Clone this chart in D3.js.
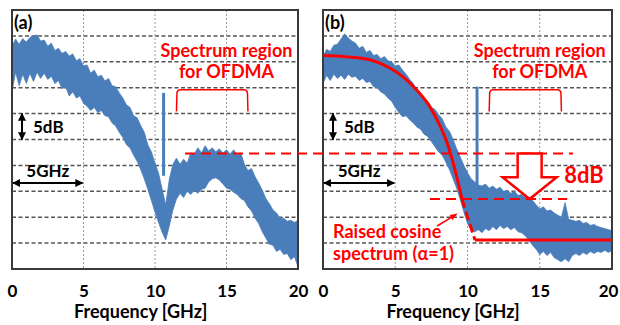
<!DOCTYPE html>
<html>
<head>
<meta charset="utf-8">
<script src="https://cdn.jsdelivr.net/npm/d3@7"></script>
<style>
  body { margin: 0; background: #fff; }
  svg { display: block; font-family: Lato, "Open Sans", sans-serif; }
</style>
</head>
<body>
<svg id="chart" width="620" height="325"></svg>
<script>
// frequency axis [GHz] and level grid [dB]
const freqTicks = [0, 5, 10, 15, 20];
const dbGrid = [-5, -10, -15, -20, -25, -30, -35, -40, -45];

// sample frequencies of the traced envelopes [GHz]
const freqs = [0, 0.25, 0.5, 0.75, 1, 1.25, 1.5, 1.75, 2, 2.25, 2.5, 2.75, 3, 3.25, 3.5, 3.75, 4, 4.25, 4.5, 4.75,
  5, 5.25, 5.5, 5.75, 6, 6.25, 6.5, 6.75, 7, 7.25, 7.5, 7.75, 8, 8.25, 8.5, 8.75, 9, 9.25, 9.5, 9.75,
  10, 10.25, 10.5, 10.75, 11, 11.25, 11.5, 11.75, 12, 12.25, 12.5, 12.75, 13, 13.25, 13.5, 13.75, 14, 14.25, 14.5, 14.75,
  15, 15.25, 15.5, 15.75, 16, 16.25, 16.5, 16.75, 17, 17.25, 17.5, 17.75, 18, 18.25, 18.5, 18.75, 19, 19.25, 19.5, 19.75, 20];

// panel (a): measured spectrum, upper / lower edge of the noisy trace [dB]
const upperA = [-7.0, -5.6, -6.6, -5.5, -6.2, -5.3, -5.0, -4.8, -6.0, -5.8, -7.0, -6.4, -7.8, -7.4, -8.4, -8.0, -8.9, -8.5, -9.8, -9.4,
  -10.8, -10.6, -12.2, -11.6, -12.9, -12.6, -13.7, -13.2, -14.6, -14.8, -16.0, -17.0, -18.3, -18.8, -20.4, -20.8, -22.3, -23.6, -26.0, -27.4,
  -29.6, -31.5, -34.6, -37.6, -32.7, -29.8, -28.6, -29.8, -28.8, -29.6, -27.6, -27.8, -26.6, -27.6, -26.2, -27.2, -26.6, -27.4, -26.8, -27.6,
  -27.0, -27.8, -27.0, -28.0, -27.6, -29.8, -31.0, -30.6, -32.2, -33.4, -34.8, -36.4, -37.4, -38.6, -39.2, -40.2, -40.2, -40.8, -40.6, -41.0, -40.6];
const lowerA = [-15.8, -12.0, -14.6, -12.4, -14.2, -12.2, -13.8, -12.0, -13.2, -12.2, -13.4, -12.8, -14.2, -13.6, -15.2, -14.8, -16.6, -15.8, -17.0, -16.6,
  -18.0, -18.6, -19.4, -18.8, -19.8, -19.4, -20.4, -20.6, -21.8, -22.4, -23.6, -24.6, -26.0, -26.6, -28.0, -29.2, -30.8, -32.6, -34.6, -36.8,
  -39.0, -41.0, -42.9, -44.4, -41.7, -38.6, -36.5, -35.4, -36.2, -35.0, -35.6, -34.8, -35.4, -34.6, -34.4, -33.2, -32.6, -32.4, -32.8, -33.6,
  -34.4, -34.6, -35.2, -35.6, -36.4, -36.8, -38.0, -38.8, -40.2, -41.2, -42.8, -44.0, -45.2, -45.4, -46.6, -46.2, -47.2, -47.0, -48.2, -47.6, -49.6];

// panel (b): spectrum after pre-equalisation [dB]
const upperB = [-9.0, -7.6, -8.0, -6.8, -6.6, -5.6, -4.6, -5.4, -6.0, -6.4, -7.4, -7.0, -8.2, -7.8, -8.8, -8.6, -9.4, -9.0, -9.8, -10.0,
  -10.8, -10.6, -11.6, -12.4, -13.4, -14.2, -15.6, -16.0, -17.2, -17.6, -18.8, -19.2, -20.2, -21.0, -22.6, -23.4, -25.0, -26.8, -28.4, -30.0,
  -31.4, -32.6, -33.2, -33.8, -34.0, -33.6, -34.4, -34.0, -34.6, -34.2, -35.0, -34.8, -35.4, -35.0, -35.8, -35.6, -36.2, -35.0, -36.8, -37.6,
  -38.4, -38.0, -38.8, -38.6, -39.2, -39.6, -40.0, -37.2, -40.4, -40.6, -40.8, -40.6, -41.2, -41.0, -41.6, -41.4, -41.8, -42.0, -42.2, -42.4, -42.6];
const lowerB = [-14.2, -12.6, -13.6, -12.4, -13.2, -12.6, -13.4, -12.4, -13.0, -12.8, -13.6, -13.2, -14.0, -13.8, -14.8, -15.0, -15.8, -16.2, -17.0, -17.6,
  -18.8, -19.8, -20.6, -20.4, -21.2, -21.8, -22.6, -23.0, -24.0, -24.4, -25.4, -26.4, -27.4, -28.0, -29.4, -30.8, -32.6, -34.4, -36.6, -39.0,
  -41.2, -42.4, -42.8, -42.4, -43.0, -42.2, -42.6, -41.8, -42.4, -41.6, -42.2, -41.8, -42.4, -42.0, -42.8, -43.0, -43.6, -44.4, -45.4, -46.2,
  -47.2, -46.6, -47.4, -46.8, -47.8, -48.2, -48.6, -48.0, -48.6, -47.4, -47.0, -47.4, -46.8, -47.2, -46.6, -47.0, -46.6, -46.8, -46.4, -46.8, -46.4];

// carrier spikes [GHz, top dB, bottom dB]
const spikeA = [10.6, -16, -32];
const spikeB = [10.66, -14.8, -34];

// raised cosine reference (alpha = 1)
const rcFreq = [0, 1.5, 3.25, 4.5, 5.54, 6.5, 7.4, 8, 8.58, 9.13, 9.62, 10.1, 10.52, 20];
const rcDb = [-8.8, -9.0, -9.6, -11.0, -12.9, -15.5, -18.7, -21.8, -25.6, -30.8, -36.5, -40.8, -44.4, -44.4];
const rcDashFrom = 9.62, rcDashTo = 10.52;

// annotations
const ofdmaBand = [11.5, 16.5];          // bracket span [GHz]
const ofdmaBracketDb = [-15.4, -19.6];   // bracket top / leg end [dB]
const levelBefore = -27.7;               // dashed level in (a)
const levelAfter = -36.5;                // dashed level in (b)
const levelLineA = 12.1, levelLineB = 17.3, levelAfterFrom = 7.4, levelAfterTo = 16.9;
const dropArrow = { f: 14.3, shaft: 0.83, head: 1.87, neck: -32.3 };

const svg = d3.select("#chart");
const red = "#ff0000";
const blue = "#4a7ebb";

const defs = svg.append("defs");
defs.append("marker").attr("id", "blk")
  .attr("viewBox", "0 0 10 10").attr("refX", 9).attr("refY", 5)
  .attr("markerWidth", 4).attr("markerHeight", 4)
  .attr("orient", "auto-start-reverse")
  .append("path").attr("d", "M0,0L10,5L0,10Z").attr("fill", "#000");
defs.append("marker").attr("id", "redhead")
  .attr("viewBox", "0 0 10 10").attr("refX", 9).attr("refY", 5)
  .attr("markerWidth", 5).attr("markerHeight", 5)
  .attr("orient", "auto")
  .append("path").attr("d", "M0,1L10,5L0,9Z").attr("fill", red);

const y = d3.scaleLinear().domain([-50, 0]).range([269, 10]);

const panels = [
  { label: "(a)", left: 12, right: 298, upper: upperA, lower: lowerA, spike: spikeA },
  { label: "(b)", left: 323, right: 612, upper: upperB, lower: lowerB, spike: spikeB }
];

panels.forEach(p => {
  p.x = d3.scaleLinear().domain([0, 20]).range([p.left, p.right]);
});

function drawPanel(p) {
  const g = svg.append("g");
  const x = p.x;

  g.selectAll("line.hgrid").data(dbGrid).join("line")
    .attr("x1", p.left).attr("x2", p.right)
    .attr("y1", d => y(d)).attr("y2", d => y(d))
    .attr("stroke", "#555").attr("stroke-width", 1.5)
    .attr("stroke-dasharray", "4,2.5");

  g.selectAll("line.vgrid").data(freqTicks.slice(1, -1)).join("line")
    .attr("x1", d => x(d)).attr("x2", d => x(d))
    .attr("y1", y(0)).attr("y2", y(-50))
    .attr("stroke", "#9a9a9a").attr("stroke-width", 1)
    .attr("stroke-dasharray", "2,2");

  const band = freqs.map((f, i) => ({ f, hi: p.upper[i], lo: p.lower[i] }));
  g.append("path").datum(band)
    .attr("fill", blue)
    .attr("stroke", blue).attr("stroke-width", 0.8).attr("stroke-linejoin", "round")
    .attr("d", d3.area().x(d => x(d.f)).y0(d => y(d.lo)).y1(d => y(d.hi)));

  g.append("line")
    .attr("x1", x(p.spike[0])).attr("x2", x(p.spike[0]))
    .attr("y1", y(p.spike[1])).attr("y2", y(p.spike[2]))
    .attr("stroke", blue).attr("stroke-width", 3);

  g.append("rect")
    .attr("x", p.left).attr("y", y(0))
    .attr("width", p.right - p.left).attr("height", y(-50) - y(0))
    .attr("fill", "none").attr("stroke", "#3a3a3a").attr("stroke-width", 2);

  const axis = g.append("g")
    .attr("transform", `translate(0,${y(-50)})`)
    .call(d3.axisBottom(x).tickValues(freqTicks).tickSize(0).tickPadding(16));
  axis.select(".domain").remove();
  axis.selectAll("text")
    .attr("font-family", "Lato, sans-serif")
    .attr("font-size", 17).attr("font-weight", "bold").attr("fill", "#000")
    .attr("dx", d => (x(d) + 10 > 618 ? 618 - 10 - x(d) : 0));

  g.append("text")
    .attr("x", x(9)).attr("y", 318)
    .attr("text-anchor", "middle")
    .attr("font-size", 18).attr("font-weight", "bold")
    .text("Frequency [GHz]");

  g.append("text")
    .attr("x", p.left + 2).attr("y", 29)
    .attr("font-size", 18).attr("font-weight", "bold")
    .text(p.label);

  // 5dB scale arrow
  g.append("line")
    .attr("x1", p.left + 10).attr("x2", p.left + 10)
    .attr("y1", y(-20)).attr("y2", y(-25))
    .attr("stroke", "#000").attr("stroke-width", 2)
    .attr("marker-start", "url(#blk)").attr("marker-end", "url(#blk)");
  g.append("text")
    .attr("x", p.left + 21).attr("y", 133)
    .attr("font-size", 17).attr("font-weight", "bold")
    .text("5dB");

  // 5GHz scale arrow
  g.append("line")
    .attr("x1", x(0) + 1).attr("x2", x(5) - 1)
    .attr("y1", 183).attr("y2", 183)
    .attr("stroke", "#000").attr("stroke-width", 2)
    .attr("marker-start", "url(#blk)").attr("marker-end", "url(#blk)");
  g.append("text")
    .attr("x", x(2.5)).attr("y", 177)
    .attr("text-anchor", "middle")
    .attr("font-size", 17).attr("font-weight", "bold")
    .text("5GHz");

  // OFDMA region
  g.append("text")
    .attr("x", x(15)).attr("y", 57)
    .attr("text-anchor", "middle").attr("fill", red)
    .attr("font-size", 18).attr("font-weight", "bold")
    .text("Spectrum region");
  g.append("text")
    .attr("x", x(15)).attr("y", 78)
    .attr("text-anchor", "middle").attr("fill", red)
    .attr("font-size", 18).attr("font-weight", "bold")
    .text("for OFDMA");

  const bx0 = x(ofdmaBand[0]), bx1 = x(ofdmaBand[1]);
  const by0 = y(ofdmaBracketDb[0]), by1 = y(ofdmaBracketDb[1]);
  g.append("path")
    .attr("d", `M${bx0},${by1}L${bx0 + 0.5},${by0 + 3}Q${bx0 + 1},${by0} ${bx0 + 4},${by0}` +
      `L${bx1 - 4},${by0}Q${bx1 - 1},${by0} ${bx1 - 0.5},${by0 + 3}L${bx1},${by1}`)
    .attr("fill", "none").attr("stroke", red).attr("stroke-width", 1.5);
}

panels.forEach(drawPanel);

const xa = panels[0].x, xb = panels[1].x;

// raised cosine curve in (b)
const rc = rcFreq.map((f, i) => ({ f, db: rcDb[i] }));
const rcLine = d3.line().x(d => xb(d.f)).y(d => y(d.db)).curve(d3.curveMonotoneX);
svg.append("path").datum(rc.filter(d => d.f <= rcDashFrom))
  .attr("d", rcLine).attr("fill", "none").attr("stroke", red).attr("stroke-width", 3);
svg.append("path").datum(rc.filter(d => d.f >= rcDashFrom && d.f <= rcDashTo))
  .attr("d", rcLine).attr("fill", "none").attr("stroke", red).attr("stroke-width", 3)
  .attr("stroke-dasharray", "9,4");
svg.append("path").datum(rc.filter(d => d.f >= rcDashTo))
  .attr("d", rcLine).attr("fill", "none").attr("stroke", red).attr("stroke-width", 3);

// level lines
svg.append("line")
  .attr("x1", xa(levelLineA)).attr("x2", xb(levelLineB))
  .attr("y1", y(levelBefore)).attr("y2", y(levelBefore))
  .attr("stroke", red).attr("stroke-width", 2).attr("stroke-dasharray", "10,6");
svg.append("line")
  .attr("x1", xb(levelAfterFrom)).attr("x2", xb(levelAfterTo))
  .attr("y1", y(levelAfter)).attr("y2", y(levelAfter))
  .attr("stroke", red).attr("stroke-width", 2).attr("stroke-dasharray", "10,6");

// hollow drop arrow
const da = dropArrow;
const arrowPts = [
  [da.f - da.shaft, levelBefore], [da.f + da.shaft, levelBefore],
  [da.f + da.shaft, da.neck], [da.f + da.head, da.neck],
  [da.f, levelAfter],
  [da.f - da.head, da.neck], [da.f - da.shaft, da.neck]
];
svg.append("polygon")
  .attr("points", arrowPts.map(d => [xb(d[0]), y(d[1])].join(",")).join(" "))
  .attr("fill", "#fff").attr("stroke", red).attr("stroke-width", 2.5)
  .attr("stroke-linejoin", "miter");

svg.append("text")
  .attr("x", 584).attr("y", 183)
  .attr("text-anchor", "middle").attr("fill", red)
  .attr("font-size", 22).attr("font-weight", "bold")
  .text("8dB");

// raised cosine label
svg.append("text")
  .attr("x", 333).attr("y", 238).attr("fill", red)
  .attr("font-size", 18).attr("font-weight", "bold")
  .text("Raised cosine");
svg.append("text")
  .attr("x", 333).attr("y", 260).attr("fill", red)
  .attr("font-size", 18).attr("font-weight", "bold")
  .text("spectrum (\u03b1=1)");
svg.append("line")
  .attr("x1", xb(7.9)).attr("y1", y(-41.7))
  .attr("x2", xb(9.25)).attr("y2", y(-39.4))
  .attr("stroke", red).attr("stroke-width", 1.5)
  .attr("marker-end", "url(#redhead)");
</script>
</body>
</html>
